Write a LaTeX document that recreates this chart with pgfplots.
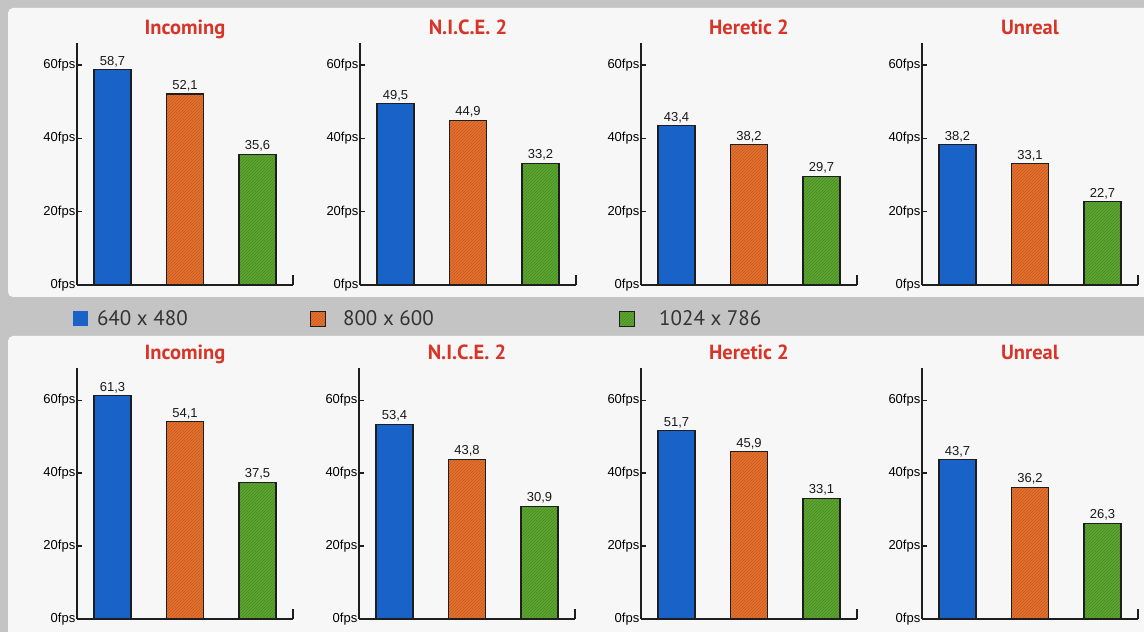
\documentclass[border=0pt]{standalone}
\usepackage{pgfplots}
\pgfplotsset{compat=1.18}
\usetikzlibrary{patterns}
\usepackage{fontspec}
\setmainfont{Liberation Sans}
\newfontfamily\titlefont{PT Sans}
\newfontfamily\legfont{PT Sans}

\definecolor{cblue}{RGB}{24,98,200}
\definecolor{corange}{RGB}{232,112,44}
\definecolor{cgreen}{RGB}{92,168,48}
\definecolor{ctitle}{RGB}{216,52,40}
\definecolor{bggray}{RGB}{196,196,196}
\definecolor{cpanel}{RGB}{247,247,247}
\definecolor{cline}{RGB}{30,30,30}

\pgfplotsset{
  sqlegend/.style={legend image code/.code={\fill[##1,draw=none] (0pt,-7.5pt) rectangle (15pt,7.5pt);}},
  panel/.style={
    scale only axis, width=216pt,
    xmin=-0.49, xmax=2.49, ymin=0,
    axis lines=left, axis line style={-, line width=1.4pt, cline},
    every outer x axis line/.append style={-},
    every outer y axis line/.append style={-},
    xtick=\empty,
    ytick={0,20,40,60}, yticklabels={0fps,20fps,40fps,60fps},
    tick align=inside, major tick length=5pt,
    ytick style={line width=1.6pt, cline},
    yticklabel style={font=\fontsize{13}{15}\selectfont, inner sep=1.5pt},
    ybar, bar width=37pt,
    every axis plot/.append style={draw=cline, line width=1.1pt, bar shift=0pt, sqlegend},
    nodes near coords={\pgfmathprintnumber[fixed,fixed zerofill,precision=1,use comma,assume math mode=true]{\pgfplotspointmeta}},
    nodes near coords style={font=\fontsize{13}{15}\selectfont, anchor=base, yshift=4.5pt, text=black!90},
    every axis title shift=0pt,
    title style={font=\titlefont\bfseries\fontsize{20.5}{23}\selectfont, text=ctitle, anchor=base, yshift=0pt, at={(axis description cs:0.5,1.037)}},
    clip=false,
  },
  toprow/.style={panel, height=242pt, ymax=66},
  botrow/.style={panel, height=251.5pt, ymax=69, title style={at={(axis description cs:0.5,1.03)}}},
  borange/.style={fill=corange, postaction={pattern=north east lines, pattern color=corange!82!black}},
  bgreen/.style={fill=cgreen, postaction={pattern=north east lines, pattern color=cgreen!80!black}},
}

\begin{document}
\begin{tikzpicture}[x=1pt,y=1pt]
\useasboundingbox (0,0) rectangle (1144,632);
\fill[bggray] (0,0) rectangle (1144,632);
\fill[cpanel, rounded corners=5pt] (8,335) rectangle (1152,624);
\fill[cpanel, rounded corners=5pt] (8,-10) rectangle (1152,296);

% ---------- top row ----------
\begin{axis}[toprow, at={(77pt,347pt)}, anchor=south west, title={Incoming},
  legend columns=-1, legend cell align=left,
  legend style={at={(axis description cs:-0.0185,-0.1405)}, anchor=west, draw=none, fill=none,
    inner sep=0pt, outer sep=0pt, /tikz/column sep=0pt,
    nodes={inner sep=0pt, font=\legfont\fontsize{21}{23}\selectfont, text=black!80}}]
\addplot[fill=cblue] coordinates {(0,58.7)};
\addplot[borange] coordinates {(1,52.1)};
\addplot[bgreen] coordinates {(2,35.6)};
\draw[line width=1.4pt, cline] (rel axis cs:1,0) -- ++(0pt,10pt);
\legend{\hspace*{9pt}\makebox[213pt][l]{640 x 480}, \hspace*{17pt}\makebox[276pt][l]{800 x 600}, \hspace*{24pt}1024 x 786}
\end{axis}

\begin{axis}[toprow, at={(360pt,347pt)}, anchor=south west, title={N.I.C.E. 2}]
\addplot[fill=cblue] coordinates {(0,49.5)};
\addplot[borange] coordinates {(1,44.9)};
\addplot[bgreen] coordinates {(2,33.2)};
\draw[line width=1.4pt, cline] (rel axis cs:1,0) -- ++(0pt,10pt);
\end{axis}

\begin{axis}[toprow, at={(641pt,347pt)}, anchor=south west, title={Heretic 2}]
\addplot[fill=cblue] coordinates {(0,43.4)};
\addplot[borange] coordinates {(1,38.2)};
\addplot[bgreen] coordinates {(2,29.7)};
\draw[line width=1.4pt, cline] (rel axis cs:1,0) -- ++(0pt,10pt);
\end{axis}

\begin{axis}[toprow, at={(922pt,347pt)}, anchor=south west, title={Unreal}]
\addplot[fill=cblue] coordinates {(0,38.2)};
\addplot[borange] coordinates {(1,33.1)};
\addplot[bgreen] coordinates {(2,22.7)};
\draw[line width=1.4pt, cline] (rel axis cs:1,0) -- ++(0pt,10pt);
\end{axis}

% ---------- bottom row ----------
\begin{axis}[botrow, at={(77pt,13pt)}, anchor=south west, title={Incoming}]
\addplot[fill=cblue] coordinates {(0,61.3)};
\addplot[borange] coordinates {(1,54.1)};
\addplot[bgreen] coordinates {(2,37.5)};
\draw[line width=1.4pt, cline] (rel axis cs:1,0) -- ++(0pt,10pt);
\end{axis}

\begin{axis}[botrow, at={(359pt,13pt)}, anchor=south west, title={N.I.C.E. 2}]
\addplot[fill=cblue] coordinates {(0,53.4)};
\addplot[borange] coordinates {(1,43.8)};
\addplot[bgreen] coordinates {(2,30.9)};
\draw[line width=1.4pt, cline] (rel axis cs:1,0) -- ++(0pt,10pt);
\end{axis}

\begin{axis}[botrow, at={(641pt,13pt)}, anchor=south west, title={Heretic 2}]
\addplot[fill=cblue] coordinates {(0,51.7)};
\addplot[borange] coordinates {(1,45.9)};
\addplot[bgreen] coordinates {(2,33.1)};
\draw[line width=1.4pt, cline] (rel axis cs:1,0) -- ++(0pt,10pt);
\end{axis}

\begin{axis}[botrow, at={(922pt,13pt)}, anchor=south west, title={Unreal}]
\addplot[fill=cblue] coordinates {(0,43.7)};
\addplot[borange] coordinates {(1,36.2)};
\addplot[bgreen] coordinates {(2,26.3)};
\draw[line width=1.4pt, cline] (rel axis cs:1,0) -- ++(0pt,10pt);
\end{axis}
\end{tikzpicture}
\end{document}
